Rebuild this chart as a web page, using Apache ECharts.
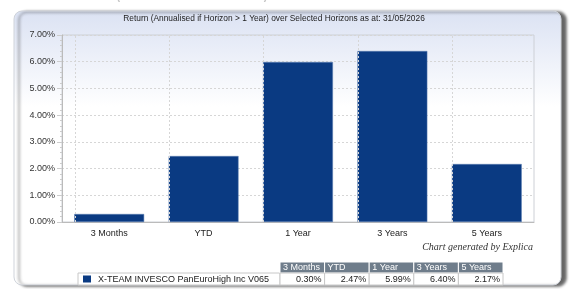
<!DOCTYPE html>
<html>
<head>
<meta charset="utf-8">
<script src="https://cdn.jsdelivr.net/npm/echarts@6/dist/echarts.min.js"></script>
<style>
html, body { margin: 0; padding: 0; background: #fff; }
#main { width: 572px; height: 289px; }
</style>
</head>
<body>
<div id="main"></div>
<script>
// 数据
var categories = ['3 Months', 'YTD', '1 Year', '3 Years', '5 Years'];
var fundName = 'X-TEAM INVESCO PanEuroHigh Inc V065';
var returns = [0.30, 2.47, 5.99, 6.40, 2.17];
var yTicks = [0, 1, 2, 3, 4, 5, 6, 7];
var titleText = 'Return (Annualised if Horizon > 1 Year) over Selected Horizons as at: 31/05/2026';

var chart = echarts.init(document.getElementById('main'));

// 表格（底部）
var tableX = 280, cellW = 44.6, headY = 262, rowH = 11;
var graphics = [
	{
		type: 'rect', z: -10,
		shape: { x: 14, y: 11, width: 547, height: 274, r: 8 },
		style: {
			fill: new echarts.graphic.LinearGradient(0, 0, 0, 1, [
				{ offset: 0, color: '#dbe2f3' },
				{ offset: 0.35, color: '#ffffff' },
				{ offset: 1, color: '#ffffff' }
			]),
			stroke: '#cfd3da', lineWidth: 1,
			shadowColor: 'rgba(0,0,0,0.6)', shadowBlur: 3, shadowOffsetX: 5, shadowOffsetY: 1
		}
	},
	{
		type: 'text', x: 272, y: -8,
		style: { text: titleText, font: 'bold 10px "Liberation Sans"', fill: '#c4c4c4', align: 'center' }
	},
	{
		type: 'text', x: 274, y: 19,
		style: { text: titleText, font: '8.4px "Liberation Sans"', fill: '#222', align: 'center', verticalAlign: 'middle' }
	},
	{
		type: 'text', x: 533, y: 247,
		style: { text: 'Chart generated by Explica', font: 'italic 10px "Liberation Serif"', fill: '#333', align: 'right', verticalAlign: 'middle' }
	},
	// 图例单元格
	{
		type: 'rect',
		shape: { x: 78, y: headY + rowH, width: tableX - 78, height: rowH + 1 },
		style: { fill: '#fff', stroke: '#c8c8c8', lineWidth: 1 }
	},
	{
		type: 'rect',
		shape: { x: 83, y: headY + rowH + 2.5, width: 8, height: 7 },
		style: { fill: '#0a3a82' }
	},
	{
		type: 'text', x: 98, y: headY + rowH + 6.5,
		style: { text: fundName, font: '9px "Liberation Sans"', fill: '#222', verticalAlign: 'middle' }
	}
];
categories.forEach(function (c, i) {
	var x = tableX + i * cellW;
	graphics.push({
		type: 'rect',
		shape: { x: x, y: headY, width: cellW, height: rowH },
		style: { fill: '#6f7d8b', stroke: '#ffffff', lineWidth: 1 }
	});
	graphics.push({
		type: 'text', x: x + 3, y: headY + rowH / 2 + 0.5,
		style: { text: c, font: '9px "Liberation Sans"', fill: '#fff', verticalAlign: 'middle' }
	});
	graphics.push({
		type: 'rect',
		shape: { x: x, y: headY + rowH, width: cellW, height: rowH + 1 },
		style: { fill: '#fff', stroke: '#c8c8c8', lineWidth: 1 }
	});
	graphics.push({
		type: 'text', x: x + cellW - 3, y: headY + rowH + 6.5,
		style: { text: returns[i].toFixed(2) + '%', font: '9px "Liberation Sans"', fill: '#222', align: 'right', verticalAlign: 'middle' }
	});
});

var option = {
	animation: false,
	backgroundColor: '#ffffff',
	textStyle: { fontFamily: 'Liberation Sans' },
	grid: {
		show: true,
		left: 62, right: 38, top: 35, bottom: 67,
		borderColor: '#cdd0d6', borderWidth: 1,
		backgroundColor: 'transparent'
	},
	xAxis: {
		type: 'category',
		data: categories,
		axisLine: { lineStyle: { color: '#bbbbbb' } },
		axisTick: { show: false },
		axisLabel: { fontSize: 9, color: '#222', margin: 7 },
		splitLine: { show: false }
	},
	yAxis: {
		type: 'value',
		min: yTicks[0],
		max: yTicks[yTicks.length - 1],
		interval: 1,
		axisLine: { show: true, lineStyle: { color: '#bbbbbb' } },
		axisTick: { show: true, length: 5, lineStyle: { color: '#cccccc' } },
		minorTick: { show: true, splitNumber: 5, length: 2, lineStyle: { color: '#cccccc' } },
		axisLabel: {
			fontSize: 9, color: '#333', margin: 7,
			formatter: function (v) { return v.toFixed(2) + '%'; }
		},
		splitLine: { lineStyle: { color: '#d6d6d6', type: [2, 2] } }
	},
	series: [{
		// 竖向虚线（类目中心）
		type: 'bar',
		z: 1,
		data: [],
		markLine: {
			silent: true,
			symbol: 'none',
			label: { show: false },
			lineStyle: { color: '#d6d6d6', type: [2, 2], width: 1 },
			data: categories.map(function (c) { return { xAxis: c }; })
		}
	}, {
		name: fundName,
		type: 'bar',
		z: 3,
		barGap: '-100%',
		barWidth: '74%',
		data: returns,
		itemStyle: { color: '#0a3a82', borderColor: '#5d7fb3', borderWidth: 0.5 }
	}],
	graphic: graphics
};
chart.setOption(option);
</script>
</body>
</html>
